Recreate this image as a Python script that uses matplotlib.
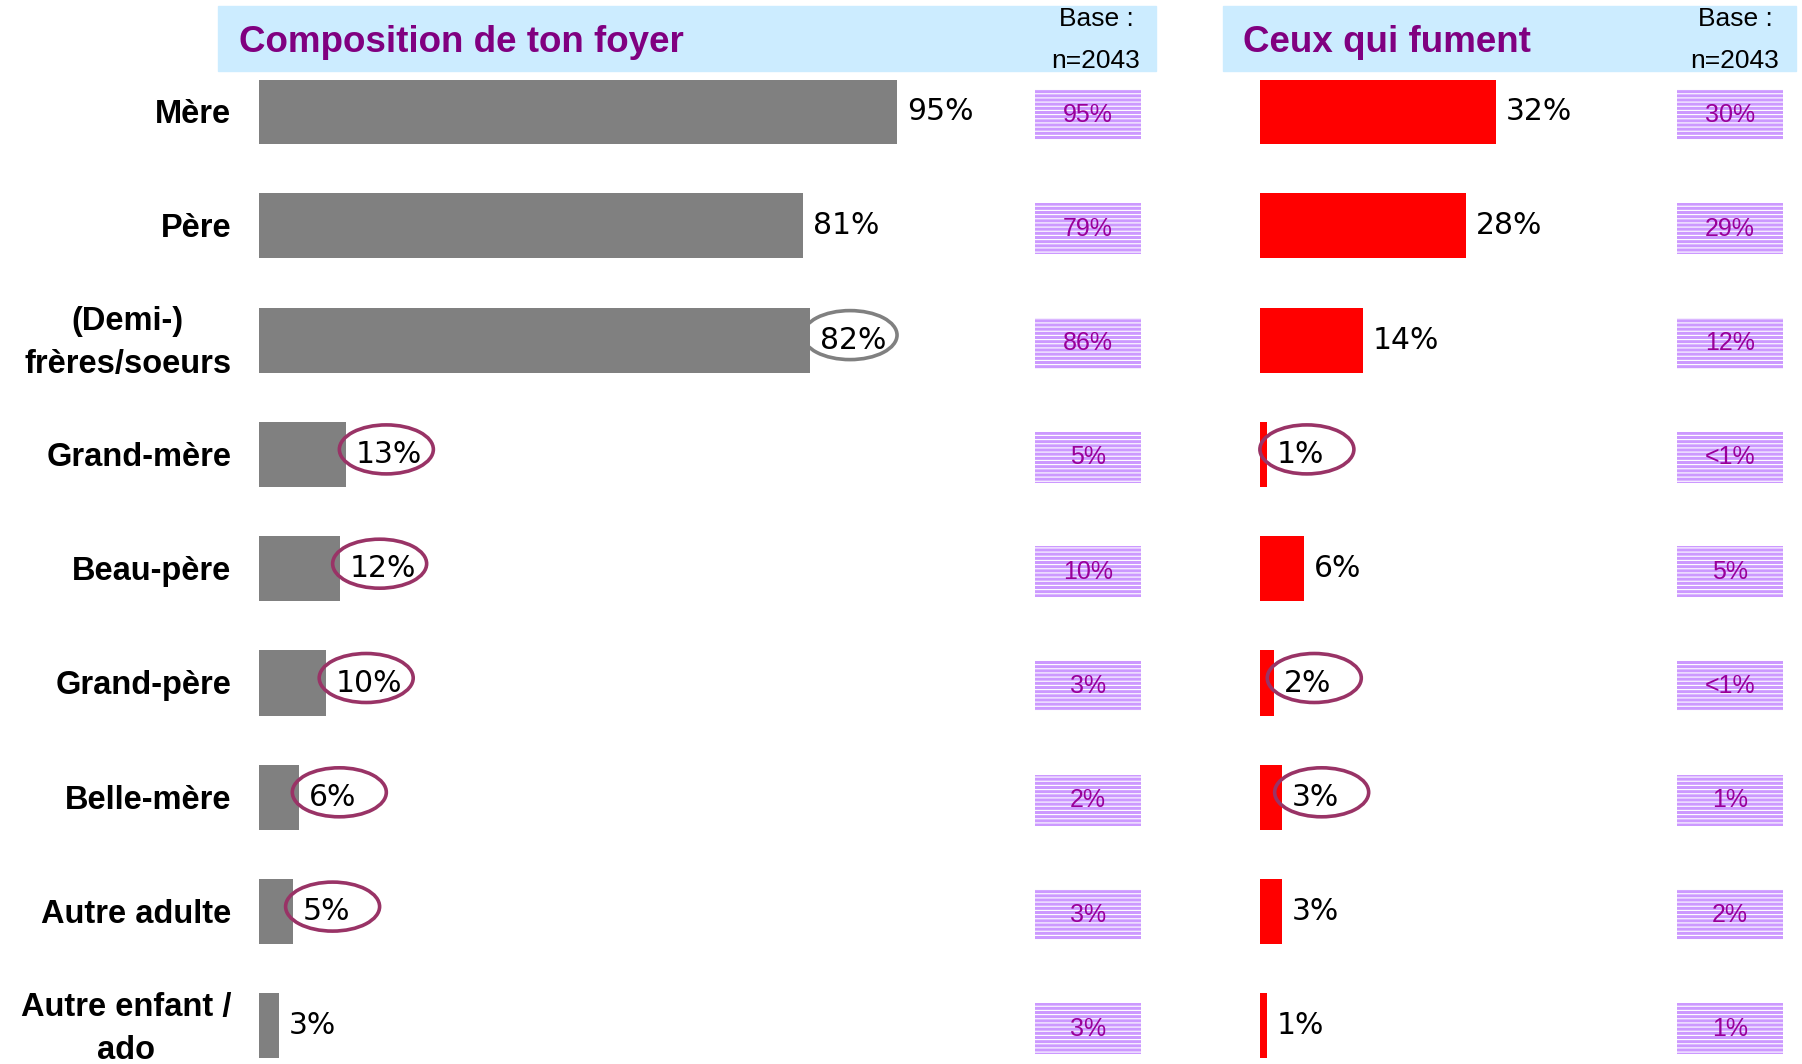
import matplotlib
matplotlib.use("Agg")
import matplotlib.pyplot as plt
import matplotlib.transforms as mtransforms
from matplotlib.patches import Ellipse, Rectangle

categories = ["Mère", "Père", "(Demi-)\nfrères/soeurs", "Grand-mère", "Beau-père",
              "Grand-père", "Belle-mère", "Autre adulte", "Autre enfant /\nado"]
foyer = [95, 81, 82, 13, 12, 10, 6, 5, 3]
foyer_ref = ["95%", "79%", "86%", "5%", "10%", "3%", "2%", "3%", "3%"]
fument = [32, 28, 14, 1, 6, 2, 3, 3, 1]
fument_ref = ["30%", "29%", "12%", "<1%", "5%", "<1%", "1%", "2%", "1%"]
# circled labels (None = not circled)
foyer_circle = [None, None, "grey", "plum", "plum", "plum", "plum", "plum", None]
fument_circle = [None, None, None, "plum", None, "plum", "plum", None, None]

W, H = 1802, 1064
fig = plt.figure(figsize=(W / 100, H / 100), dpi=100)

ROW0, ROW_PX = 111.5, 114.3
Y_TOP, Y_BOT = 80, 1060


def px_axes(x0, x1, dy=0):
    ax = fig.add_axes([x0 / W, 1 - (Y_BOT + dy) / H, (x1 - x0) / W, (Y_BOT - Y_TOP) / H])
    ax.set_ylim((Y_BOT - ROW0) / ROW_PX, (Y_TOP - ROW0) / ROW_PX)
    for s in ax.spines.values():
        s.set_visible(False)
    ax.set_xticks([])
    ax.set_yticks([])
    ax.patch.set_visible(False)
    return ax


circle_col = {"grey": "#808080", "plum": "#993366"}
rows = list(range(len(categories)))


def draw_bars(ax, values, circles, color):
    ax.barh(rows, values, height=0.57, color=color)
    for i, (v, c) in enumerate(zip(values, circles)):
        ax.annotate(f"{v}%", (v, i), xytext=(7, 0), textcoords="offset points",
                    va="center", ha="left", fontsize=21.5, family="DejaVu Sans",
                    color="black")
        if c:
            trans = fig.dpi_scale_trans + mtransforms.ScaledTranslation(v, i, ax.transData)
            ax.add_patch(Ellipse((0.40, 0.05), 0.94, 0.49, transform=trans, fill=False,
                                 ec=circle_col[c], lw=2.6, zorder=5, clip_on=False))


def draw_ref(ax, labels):
    ax.set_xlim(0, 1)
    ax.barh(rows, [1] * len(rows), height=0.446, color="#CC99FF",
            edgecolor="white", linewidth=0, hatch="----")
    for i, t in enumerate(labels):
        ax.text(0.5, i, t, ha="center", va="center", fontsize=18,
                family="Liberation Sans", color="#990099")


plt.rcParams["hatch.linewidth"] = 0.8

# left panel
ax1 = px_axes(259, 931)
ax1.set_xlim(0, 100)
draw_bars(ax1, foyer, foyer_circle, "#808080")
for i, cat in enumerate(categories):
    ax1.annotate(cat, (0, i), xytext=(-20, -2), textcoords="offset points",
                 ha="right", va="center", multialignment="center", fontsize=23.5,
                 fontweight="bold", family="Liberation Sans", linespacing=1.5,
                 annotation_clip=False)

# right panel
ax2 = px_axes(1259.5, 1629)
ax2.set_xlim(0, 50)
draw_bars(ax2, fument, fument_circle, "#FF0000")

draw_ref(px_axes(1035, 1141, dy=3), foyer_ref)
draw_ref(px_axes(1677, 1783, dy=3), fument_ref)

# headers
for (x0, x1, title, tx, bx) in [(218, 1156, "Composition de ton foyer", 239, 1096),
                                 (1223, 1796, "Ceux qui fument", 1243, 1735)]:
    fig.add_artist(Rectangle((x0 / W, 1 - 71 / H), (x1 - x0) / W, 65 / H,
                             transform=fig.transFigure, color="#CCECFF", zorder=0))
    fig.text(tx / W, 1 - 43 / H, title, ha="left", va="center", fontsize=26.5,
             fontweight="bold", family="Liberation Sans", color="#800080")
    fig.text(bx / W, 1 - 19 / H, "Base :", ha="center", va="center", fontsize=19,
             family="Liberation Sans", color="black")
    fig.text(bx / W, 1 - 61 / H, "n=2043", ha="center", va="center", fontsize=19,
             family="Liberation Sans", color="black")

fig.savefig("out.png", dpi=100)
